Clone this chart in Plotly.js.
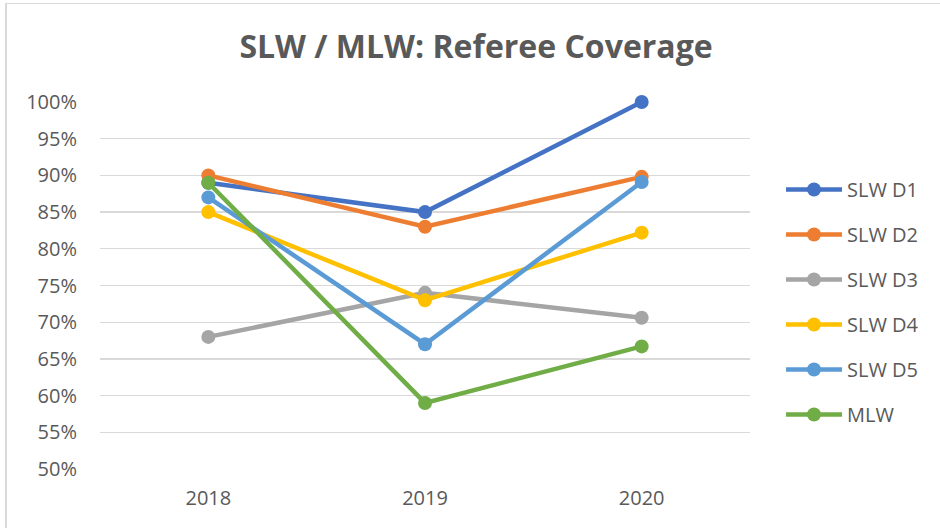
<!DOCTYPE html>
<html>
<head>
<meta charset="utf-8">
<script src="https://cdn.plot.ly/plotly-3.0.1.min.js"></script>
<style>
  html, body { margin: 0; padding: 0; background: #ffffff; }
  #wrap { position: relative; width: 940px; height: 528px; overflow: hidden; }
  #chart { width: 940px; height: 528px; }
  #frame { position: absolute; left: 5px; top: 3px; width: 960px; height: 560px;
           border-left: 2px solid #d9d9d9; border-top: 1px solid #d9d9d9; pointer-events: none; }
</style>
</head>
<body>
<div id="wrap">
  <div id="chart"></div>
  <div id="frame"></div>
</div>
<script>
// ---- data ----
const years = ['2018', '2019', '2020'];
const seriesNames = ['SLW D1', 'SLW D2', 'SLW D3', 'SLW D4', 'SLW D5', 'MLW'];
const slwD1 = [0.89, 0.85, 1.00];
const slwD2 = [0.90, 0.83, 0.898];
const slwD3 = [0.68, 0.74, 0.706];
const slwD4 = [0.85, 0.73, 0.822];
const slwD5 = [0.87, 0.67, 0.891];
const mlw   = [0.89, 0.59, 0.667];
const yTickVals = [0.50, 0.55, 0.60, 0.65, 0.70, 0.75, 0.80, 0.85, 0.90, 0.95, 1.00];
const yTickText = ['50%', '55%', '60%', '65%', '70%', '75%', '80%', '85%', '90%', '95%', '100%'];
const colors = ['#4472C4', '#ED7D31', '#A5A5A5', '#FFC000', '#5B9BD5', '#70AD47'];

const values = [slwD1, slwD2, slwD3, slwD4, slwD5, mlw];
const traces = values.map((v, i) => ({
  type: 'scatter',
  mode: 'lines+markers',
  x: years,
  y: v,
  name: seriesNames[i],
  legendgroup: 'g' + i,
  cliponaxis: false,
  line: { color: colors[i], width: 4.5 },
  marker: { color: colors[i], size: 14 }
}));

const font = "'Open Sans', 'Noto Sans', sans-serif";

const layout = {
  width: 940,
  height: 528,
  margin: { l: 100, r: 190, t: 102, b: 59 },
  paper_bgcolor: '#ffffff',
  plot_bgcolor: '#ffffff',
  font: { family: font, color: '#595959', size: 19 },
  title: {
    text: 'SLW / MLW: Referee Coverage',
    font: { family: font, size: 32, color: '#595959', weight: 'bold' },
    x: 476 / 940, xanchor: 'center', xref: 'container',
    y: 1 - 47 / 528, yanchor: 'middle', yref: 'container'
  },
  xaxis: {
    type: 'category',
    range: [-0.5, 2.5],
    showgrid: false,
    zeroline: false,
    showline: false,
    ticks: 'outside',
    ticklen: 11,
    tickcolor: 'rgba(0,0,0,0)',
    tickfont: { family: font, size: 20, color: '#595959' }
  },
  yaxis: {
    range: [0.5, 1.0],
    tickvals: yTickVals,
    ticktext: yTickText,
    showgrid: true,
    gridcolor: '#d9d9d9',
    gridwidth: 1.3,
    zeroline: false,
    showline: false,
    ticks: '',
    ticklabelstandoff: 22,
    tickfont: { family: font, size: 20, color: '#595959' }
  },
  showlegend: true,
  legend: {
    xref: 'container', yref: 'container',
    x: 781 / 940, xanchor: 'left',
    y: 1 - 170 / 528, yanchor: 'top',
    traceorder: 'grouped',
    tracegroupgap: 16,
    itemwidth: 56,
    font: { family: font, size: 20, color: '#595959' },
    bgcolor: 'rgba(0,0,0,0)'
  }
};

Plotly.newPlot('chart', traces, layout, { displayModeBar: false, staticPlot: true });
</script>
</body>
</html>
